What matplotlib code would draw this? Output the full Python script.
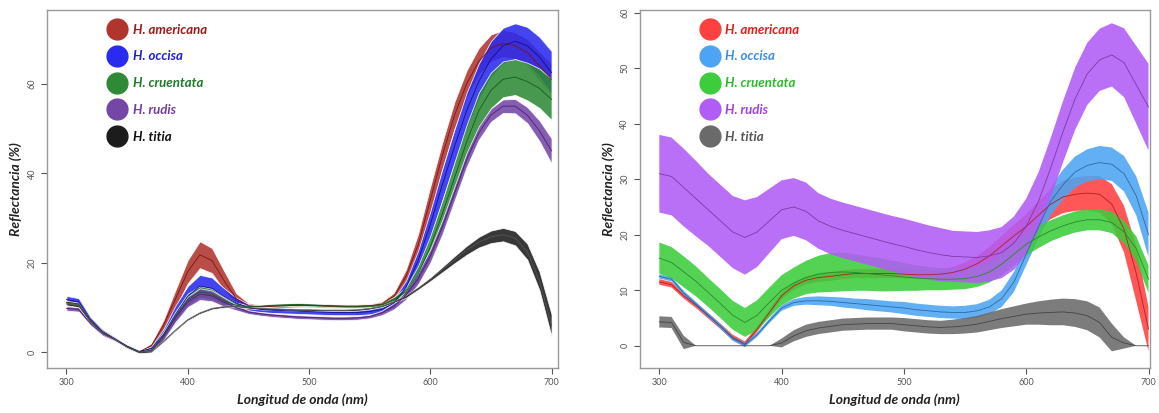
import matplotlib.pyplot as plt
from matplotlib.lines import Line2D
import numpy as np

plt.rcParams['font.family'] = ['Lato', 'DejaVu Sans']

# wavelength grid (nm)
wl = np.arange(300, 701, 10)

species = ["H. americana", "H. occisa", "H. cruentata", "H. rudis", "H. titia"]

# ---- left panel: mean reflectance (%) and half-width of the band ----
left_americana = [11.2, 10.8, 7.0, 4.6, 3.0, 1.3, 0.1, 1.5, 6.0, 12.0, 18.0, 21.8, 20.5, 16.0, 12.0, 10.4, 10.2,
                  10.3, 10.4, 10.5, 10.5, 10.4, 10.3, 10.3, 10.3, 10.4, 10.8, 12.5, 17.0, 24.0, 34.0, 44.0, 53.0,
                  60.0, 65.0, 68.0, 69.0, 68.5, 67.0, 64.0, 61.0]
left_americana_hw = [0.6, 0.6, 0.5, 0.4, 0.4, 0.3, 0.2, 0.5, 1.2, 2.0, 2.6, 3.0, 2.8, 2.2, 1.2, 0.6, 0.4, 0.4, 0.4,
                     0.4, 0.4, 0.4, 0.4, 0.4, 0.4, 0.4, 0.5, 0.8, 1.5, 2.5, 3.0, 3.0, 3.0, 3.0, 3.0, 3.0, 3.0, 3.0,
                     3.0, 3.2, 3.5]
left_occisa = [11.8, 11.3, 7.2, 4.6, 3.0, 1.4, 0.2, 0.8, 4.0, 8.5, 12.5, 14.8, 14.3, 12.5, 11.0, 10.0, 9.6, 9.4,
               9.3, 9.2, 9.1, 9.0, 8.9, 8.9, 8.9, 9.1, 9.6, 11.0, 14.5, 20.5, 28.5, 37.5, 46.0, 54.0, 60.5, 65.5,
               68.5, 69.5, 68.5, 66.0, 62.5]
left_occisa_hw = [0.8, 0.8, 0.6, 0.5, 0.4, 0.3, 0.2, 0.5, 1.2, 2.0, 2.3, 2.5, 2.4, 1.8, 1.2, 0.8, 0.6, 0.6, 0.6, 0.6,
                  0.6, 0.6, 0.6, 0.6, 0.6, 0.6, 0.7, 1.0, 1.5, 2.2, 3.0, 3.5, 3.8, 4.0, 4.0, 4.0, 4.0, 4.0, 4.2,
                  4.5, 4.8]
left_cruentata = [11.0, 10.6, 6.8, 4.4, 2.9, 1.3, 0.1, 0.5, 3.8, 8.0, 11.8, 13.5, 13.0, 11.5, 10.5, 10.2, 10.3,
                  10.5, 10.6, 10.7, 10.6, 10.5, 10.4, 10.3, 10.3, 10.4, 10.6, 11.8, 13.5, 17.5, 23.5, 31.0, 39.0,
                  47.0, 54.0, 58.5, 61.0, 61.5, 60.5, 59.0, 56.5]
left_cruentata_hw = [0.5, 0.5, 0.4, 0.4, 0.3, 0.3, 0.2, 0.3, 0.8, 1.2, 1.3, 1.3, 1.2, 1.0, 0.6, 0.3, 0.3, 0.3, 0.3,
                     0.3, 0.3, 0.3, 0.3, 0.3, 0.3, 0.3, 0.4, 0.6, 1.0, 1.8, 2.5, 3.0, 3.5, 3.8, 4.0, 4.0, 4.0, 4.0,
                     4.2, 4.4, 4.6]
left_rudis = [9.8, 9.6, 6.4, 4.1, 2.8, 1.2, 0.0, 0.4, 3.5, 7.8, 11.3, 13.0, 12.6, 11.2, 10.0, 9.0, 8.6, 8.3, 8.1,
              7.9, 7.8, 7.7, 7.6, 7.6, 7.7, 8.0, 8.8, 10.3, 12.8, 16.5, 21.5, 28.0, 35.5, 43.0, 49.0, 53.0, 55.0,
              55.0, 53.0, 49.5, 45.0]
left_rudis_hw = [0.5, 0.5, 0.4, 0.4, 0.3, 0.3, 0.2, 0.3, 0.8, 1.0, 1.2, 1.3, 1.2, 1.0, 0.6, 0.4, 0.4, 0.4, 0.4, 0.4,
                 0.4, 0.4, 0.4, 0.4, 0.4, 0.4, 0.5, 0.7, 1.0, 1.3, 1.5, 1.6, 1.6, 1.6, 1.5, 1.5, 1.5, 1.6, 1.8,
                 2.3, 2.8]
left_titia = [10.8, 10.4, 6.8, 4.4, 2.9, 1.2, 0.0, 0.2, 2.5, 5.0, 7.3, 8.8, 9.8, 10.2, 10.3, 10.0, 9.8, 9.7, 9.6,
              9.5, 9.5, 9.4, 9.4, 9.4, 9.5, 9.8, 10.3, 11.3, 12.5, 14.3, 16.3, 18.5, 20.7, 22.8, 24.6, 25.8, 26.3,
              25.5, 22.5, 16.0, 6.0]
left_titia_hw = [0.3, 0.3, 0.3, 0.3, 0.2, 0.2, 0.2, 0.2, 0.2, 0.2, 0.2, 0.2, 0.2, 0.2, 0.2, 0.2, 0.2, 0.2, 0.2, 0.2,
                 0.2, 0.2, 0.2, 0.2, 0.2, 0.2, 0.2, 0.2, 0.3, 0.3, 0.4, 0.6, 0.8, 1.0, 1.2, 1.4, 1.5, 1.6, 1.8,
                 2.1, 2.5]

# ---- right panel ----
right_americana = [11.5, 11.0, 9.0, 7.3, 5.4, 3.5, 1.5, 0.3, 3.0, 6.0, 9.0, 10.8, 11.8, 12.3, 12.5, 12.8, 13.0,
                   13.0, 13.0, 13.0, 12.9, 12.8, 12.8, 12.9, 13.2, 13.8, 14.8, 16.2, 18.0, 19.8, 21.5, 23.5, 25.5,
                   26.8, 27.3, 27.5, 27.3, 25.5, 21.0, 13.0, 3.0]
right_americana_hw = [0.5, 0.5, 0.5, 0.5, 0.5, 0.5, 0.5, 0.5, 0.5, 0.6, 0.6, 0.7, 0.7, 0.8, 0.8, 0.8, 0.8, 0.8,
                      0.8, 0.8, 0.8, 0.8, 0.8, 0.9, 1.0, 1.2, 1.4, 1.6, 1.8, 2.0, 2.2, 2.5, 2.7, 2.9, 3.0, 3.1,
                      3.3, 3.6, 4.2, 5.0, 4.0]
right_occisa = [12.5, 12.0, 9.5, 7.5, 5.5, 3.5, 1.3, 0.2, 2.0, 4.5, 6.8, 7.8, 8.1, 8.1, 8.0, 7.8, 7.6, 7.4, 7.2,
                7.0, 6.8, 6.5, 6.3, 6.1, 6.0, 6.0, 6.3, 7.0, 8.5, 11.5, 16.5, 21.5, 26.0, 29.0, 31.3, 32.5, 33.0,
                32.7, 31.0, 27.0, 20.0]
right_occisa_hw = [0.4, 0.4, 0.4, 0.4, 0.4, 0.4, 0.4, 0.4, 0.4, 0.4, 0.5, 0.6, 0.7, 0.8, 0.8, 0.9, 0.9, 1.0, 1.0,
                   1.0, 1.1, 1.1, 1.1, 1.1, 1.1, 1.2, 1.2, 1.3, 1.5, 1.8, 2.0, 2.2, 2.5, 2.7, 2.8, 2.9, 3.0, 3.0,
                   3.2, 3.5, 4.0]
right_cruentata = [15.8, 15.0, 13.3, 11.6, 9.6, 7.6, 5.5, 4.2, 5.5, 7.8, 10.0, 11.3, 12.3, 12.9, 13.2, 13.3, 13.2,
                   13.0, 12.8, 12.6, 12.4, 12.2, 12.1, 12.0, 12.0, 12.1, 12.5, 13.3, 14.7, 16.5, 18.3, 19.6, 20.7,
                   21.6, 22.3, 22.7, 22.7, 22.2, 20.5, 17.5, 12.0]
right_cruentata_hw = [2.8, 2.8, 2.8, 2.7, 2.6, 2.6, 2.6, 2.6, 2.7, 2.7, 2.7, 2.8, 3.0, 3.3, 3.5, 3.5, 3.3, 3.1,
                      3.0, 2.8, 2.5, 2.3, 2.1, 2.0, 1.9, 1.9, 1.9, 1.9, 2.0, 2.0, 2.0, 2.0, 1.9, 1.9, 1.9, 1.9,
                      1.9, 1.9, 2.0, 2.2, 2.5]
right_rudis = [31.0, 30.5, 28.5, 26.5, 24.5, 22.5, 20.5, 19.5, 20.5, 22.5, 24.5, 25.0, 24.2, 22.5, 21.5, 20.8,
               20.2, 19.6, 19.0, 18.4, 17.9, 17.3, 16.8, 16.4, 16.1, 16.0, 15.9, 16.2, 16.8, 18.5, 21.5, 26.0, 32.0,
               38.5, 44.5, 49.0, 51.5, 52.4, 51.0, 47.0, 43.0]
right_rudis_hw = [7.0, 7.0, 7.0, 6.8, 6.5, 6.5, 6.5, 6.7, 6.3, 5.8, 5.3, 5.2, 5.2, 5.0, 5.0, 5.0, 5.0, 5.0, 5.0,
                  5.0, 5.0, 5.0, 4.9, 4.8, 4.6, 4.6, 4.6, 4.6, 4.6, 4.8, 5.0, 5.2, 5.4, 5.5, 5.6, 5.6, 5.6, 5.7,
                  6.2, 7.0, 7.8]
right_titia = [4.3, 4.2, 0.6, 0.0, 0.0, 0.0, 0.0, 0.0, 0.0, 0.0, 0.5, 1.8, 2.7, 3.2, 3.5, 3.8, 3.9, 4.0, 4.0, 4.0,
               3.8, 3.6, 3.4, 3.3, 3.4, 3.6, 3.9, 4.4, 4.9, 5.3, 5.7, 5.9, 6.0, 6.1, 5.9, 5.4, 4.2, 1.5, 0.5, 0.0,
               0.0]
right_titia_hw = [1.0, 1.0, 1.2, 0.0, 0.0, 0.0, 0.0, 0.0, 0.0, 0.0, 0.8, 1.0, 1.1, 1.1, 1.1, 1.1, 1.1, 1.1, 1.1,
                  1.1, 1.2, 1.2, 1.2, 1.2, 1.3, 1.4, 1.5, 1.6, 1.7, 1.8, 1.9, 2.1, 2.3, 2.4, 2.5, 2.6, 2.7, 2.5,
                  1.0, 0.0, 0.0]

left_means = [left_americana, left_occisa, left_cruentata, left_rudis, left_titia]
left_hws = [left_americana_hw, left_occisa_hw, left_cruentata_hw, left_rudis_hw, left_titia_hw]
right_means = [right_americana, right_occisa, right_cruentata, right_rudis, right_titia]
right_hws = [right_americana_hw, right_occisa_hw, right_cruentata_hw, right_rudis_hw, right_titia_hw]

left_fill = ["#b0352f", "#2a2af0", "#2f8a37", "#7446a8", "#1c1c1c"]
left_line = ["#7a1414", "#10108a", "#145c1c", "#4a2270", "#555555"]
left_text = ["#9b1c1c", "#2020d0", "#1f7a2a", "#7040a0", "#111111"]
right_fill = ["#ff4040", "#4ca4f2", "#3ccc3c", "#b15cf5", "#6a6a6a"]
right_line = ["#b02020", "#2a6aa8", "#2a8a2a", "#7a3aa8", "#444444"]
right_text = ["#e81c1c", "#3d8ee0", "#2bbb2b", "#a040e8", "#555555"]


def draw_panel(ax, means, hws, fills, lines, texts, yticks, ylim, xlim, edge, lbl_anchor):
    for m, h, fc, lc in zip(means, hws, fills, lines):
        m = np.array(m)
        h = np.array(h)
        ax.fill_between(wl, m - h, m + h, color=fc, alpha=0.88, edgecolor=edge, linewidth=0.6)
        ax.plot(wl, m, color=lc, lw=0.6)
    ax.set_xlim(*xlim)
    ax.set_ylim(*ylim)
    ax.set_xticks([300, 400, 500, 600, 700])
    ax.set_yticks(yticks)
    ax.tick_params(colors="#555555", labelsize=6.5, length=4, width=0.8)
    for lab in ax.get_yticklabels():
        lab.set_rotation(90)
        lab.set_va("center")
    for s in ax.spines.values():
        s.set_color("#999999")
        s.set_linewidth(1.0)
    ax.set_xlabel("Longitud de onda (nm)", fontsize=10, fontweight="bold", style="italic", color="#222222")
    ax.set_ylabel("Reflectancia (%)", fontsize=10, fontweight="bold", style="italic", color="#222222")
    handles = [Line2D([], [], ls="", marker="o", markersize=15, markerfacecolor=fc, markeredgecolor=fc)
               for fc in fills]
    leg = ax.legend(handles, species, loc="upper left", bbox_to_anchor=lbl_anchor, frameon=False,
                    prop={"size": 9.5, "weight": "bold", "style": "italic"}, labelspacing=1.12,
                    handletextpad=0.4, handlelength=1.5)
    for t, c in zip(leg.get_texts(), texts):
        t.set_color(c)


fig = plt.figure(figsize=(11.59, 4.13), dpi=100)
ax1 = fig.add_axes([0.0406, 0.109, 0.4405, 0.867])
ax2 = fig.add_axes([0.552, 0.109, 0.440, 0.867])

draw_panel(ax1, left_means, left_hws, left_fill, left_line, left_text, [0, 20, 40, 60], (-3.5, 76.5),
           (284, 705), "white", (0.095, 0.995))
draw_panel(ax2, right_means, right_hws, right_fill, right_line, right_text, [0, 10, 20, 30, 40, 50, 60],
           (-4, 60.5), (284, 701), "none", (0.095, 0.995))

fig.savefig("out.png", dpi=100)
